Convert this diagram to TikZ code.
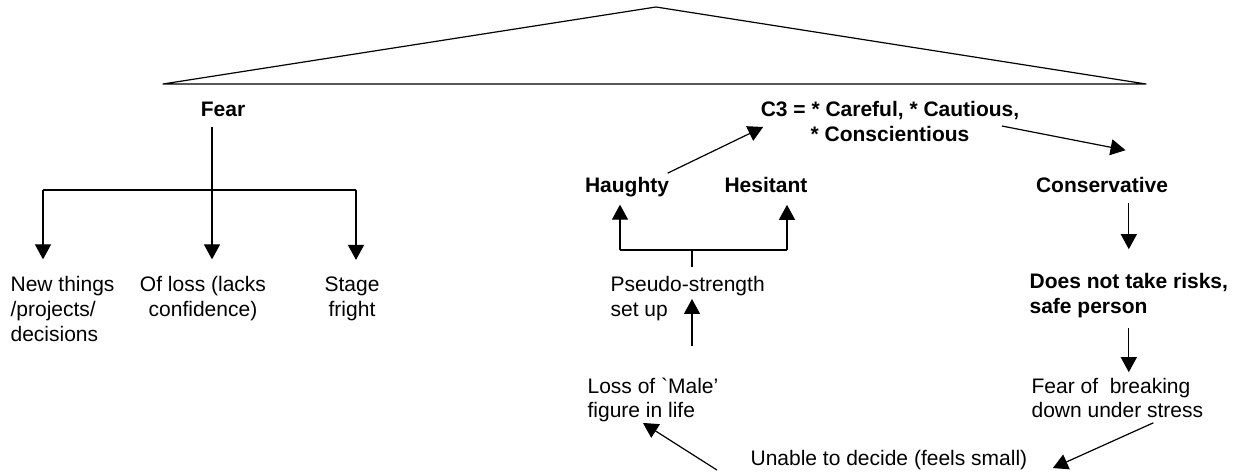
\documentclass[tikz,border=0pt]{standalone}
\usepackage{fontspec}
\setmainfont{Liberation Sans}
\usepackage{tikz}
\usetikzlibrary{arrows.meta,calc}

\begin{document}
\begin{tikzpicture}[x=0.5pt,y=-0.5pt,line width=0.6pt]
  \tikzset{txt/.style={inner sep=0pt,font=\fontsize{10.5}{12.5}\selectfont}}
  \tikzset{head/.style={inner sep=0pt,font=\fontsize{10.5}{12.5}\selectfont\bfseries}}
  \tikzset{link/.style={-{Triangle[length=7.5pt,width=8pt]}}}
  \useasboundingbox (0,0) rectangle (1242,475);
  \draw[line join=round] (163,84) -- (656,7) -- (1146,84) -- cycle;
  \node[head,anchor=base] (fear) at (223,117) {Fear};
  \node[txt,anchor=base west,align=left] (newthings) at (10,342) {New things\\/projects/\\decisions};
  \node[txt,anchor=base,align=center] (ofloss) at (203,317) {Of loss (lacks\\confidence)};
  \node[txt,anchor=base,align=center] (stage) at (352,317) {Stage\\fright};
  \node[head,anchor=base,align=center] (c3) at (890,142) {C3 = * Careful, * Cautious,\\* Conscientious};
  \node[head,anchor=base] (haughty) at (627,193) {Haughty};
  \node[head,anchor=base] (hesitant) at (766,193) {Hesitant};
  \node[head,anchor=base] (conservative) at (1102,193) {Conservative};
  \node[txt,anchor=base west,align=left] (pseudo) at (610,317) {Pseudo-strength\\set up};
  \node[txt,anchor=base west,align=left] (loss) at (587,418) {Loss of \textasciigrave Male'\\figure in life};
  \node[head,anchor=base west,align=left] (notake) at (1029,314) {Does not take risks,\\safe person};
  \node[txt,anchor=base west,align=left] (fearof) at (1031,418) {Fear of~ breaking\\down under stress};
  \node[txt,anchor=base west] (unable) at (750,466) {Unable to decide (feels small)};
  \coordinate (fl) at (43,190);
  \coordinate (fm) at (212,190);
  \coordinate (fr) at (356,190);
  \coordinate (hl) at (620,250);
  \coordinate (hm) at (692,250);
  \coordinate (hr) at (787,250);
  \draw (fl) -- (fr);
  \draw[link,shorten <=4.5pt,shorten >=8.4pt] (fear.south -| fm) -- (fm |- ofloss.north);
  \draw[link,shorten >=8.4pt] (fl) -- (fl |- newthings.north);
  \draw[link,shorten >=8.4pt] (fr) -- (fr |- stage.north);
  \draw (hl) -- (hr);
  \draw[shorten <=4.5pt] (pseudo.north -| hm) -- (hm);
  \draw[link,shorten >=3.3pt] (hl) -- (hl |- haughty.south);
  \draw[link,shorten >=5.5pt] (hr) -- (hr |- hesitant.south);
  \draw[link] ([shift={(-2,-4)}]haughty.north east) -- ([shift={(3,5)}]c3.west);
  \draw[link] ([shift={(-18,4)}]c3.east) -- ([shift={(-43,-27)}]conservative.north east);
  \draw[link,shorten <=4.5pt,shorten >=12pt] (conservative.south -| notake.north) -- (notake.north);
  \draw[link,shorten <=4.75pt,shorten >=2.5pt] (notake.south) -- (notake.south |- fearof.north);
  \draw[link] ([shift={(36,4)}]fearof.south) -- ([shift={(25,7.5)}]unable.east);
  \draw[link] ([shift={(-33,9.5)}]unable.west) -- ([shift={(-10,0)}]loss.south);
  \draw[link,shorten <=15.5pt] (loss.north -| hm) -- ([yshift=11.5pt]hm |- pseudo.south);
\end{tikzpicture}
\end{document}
